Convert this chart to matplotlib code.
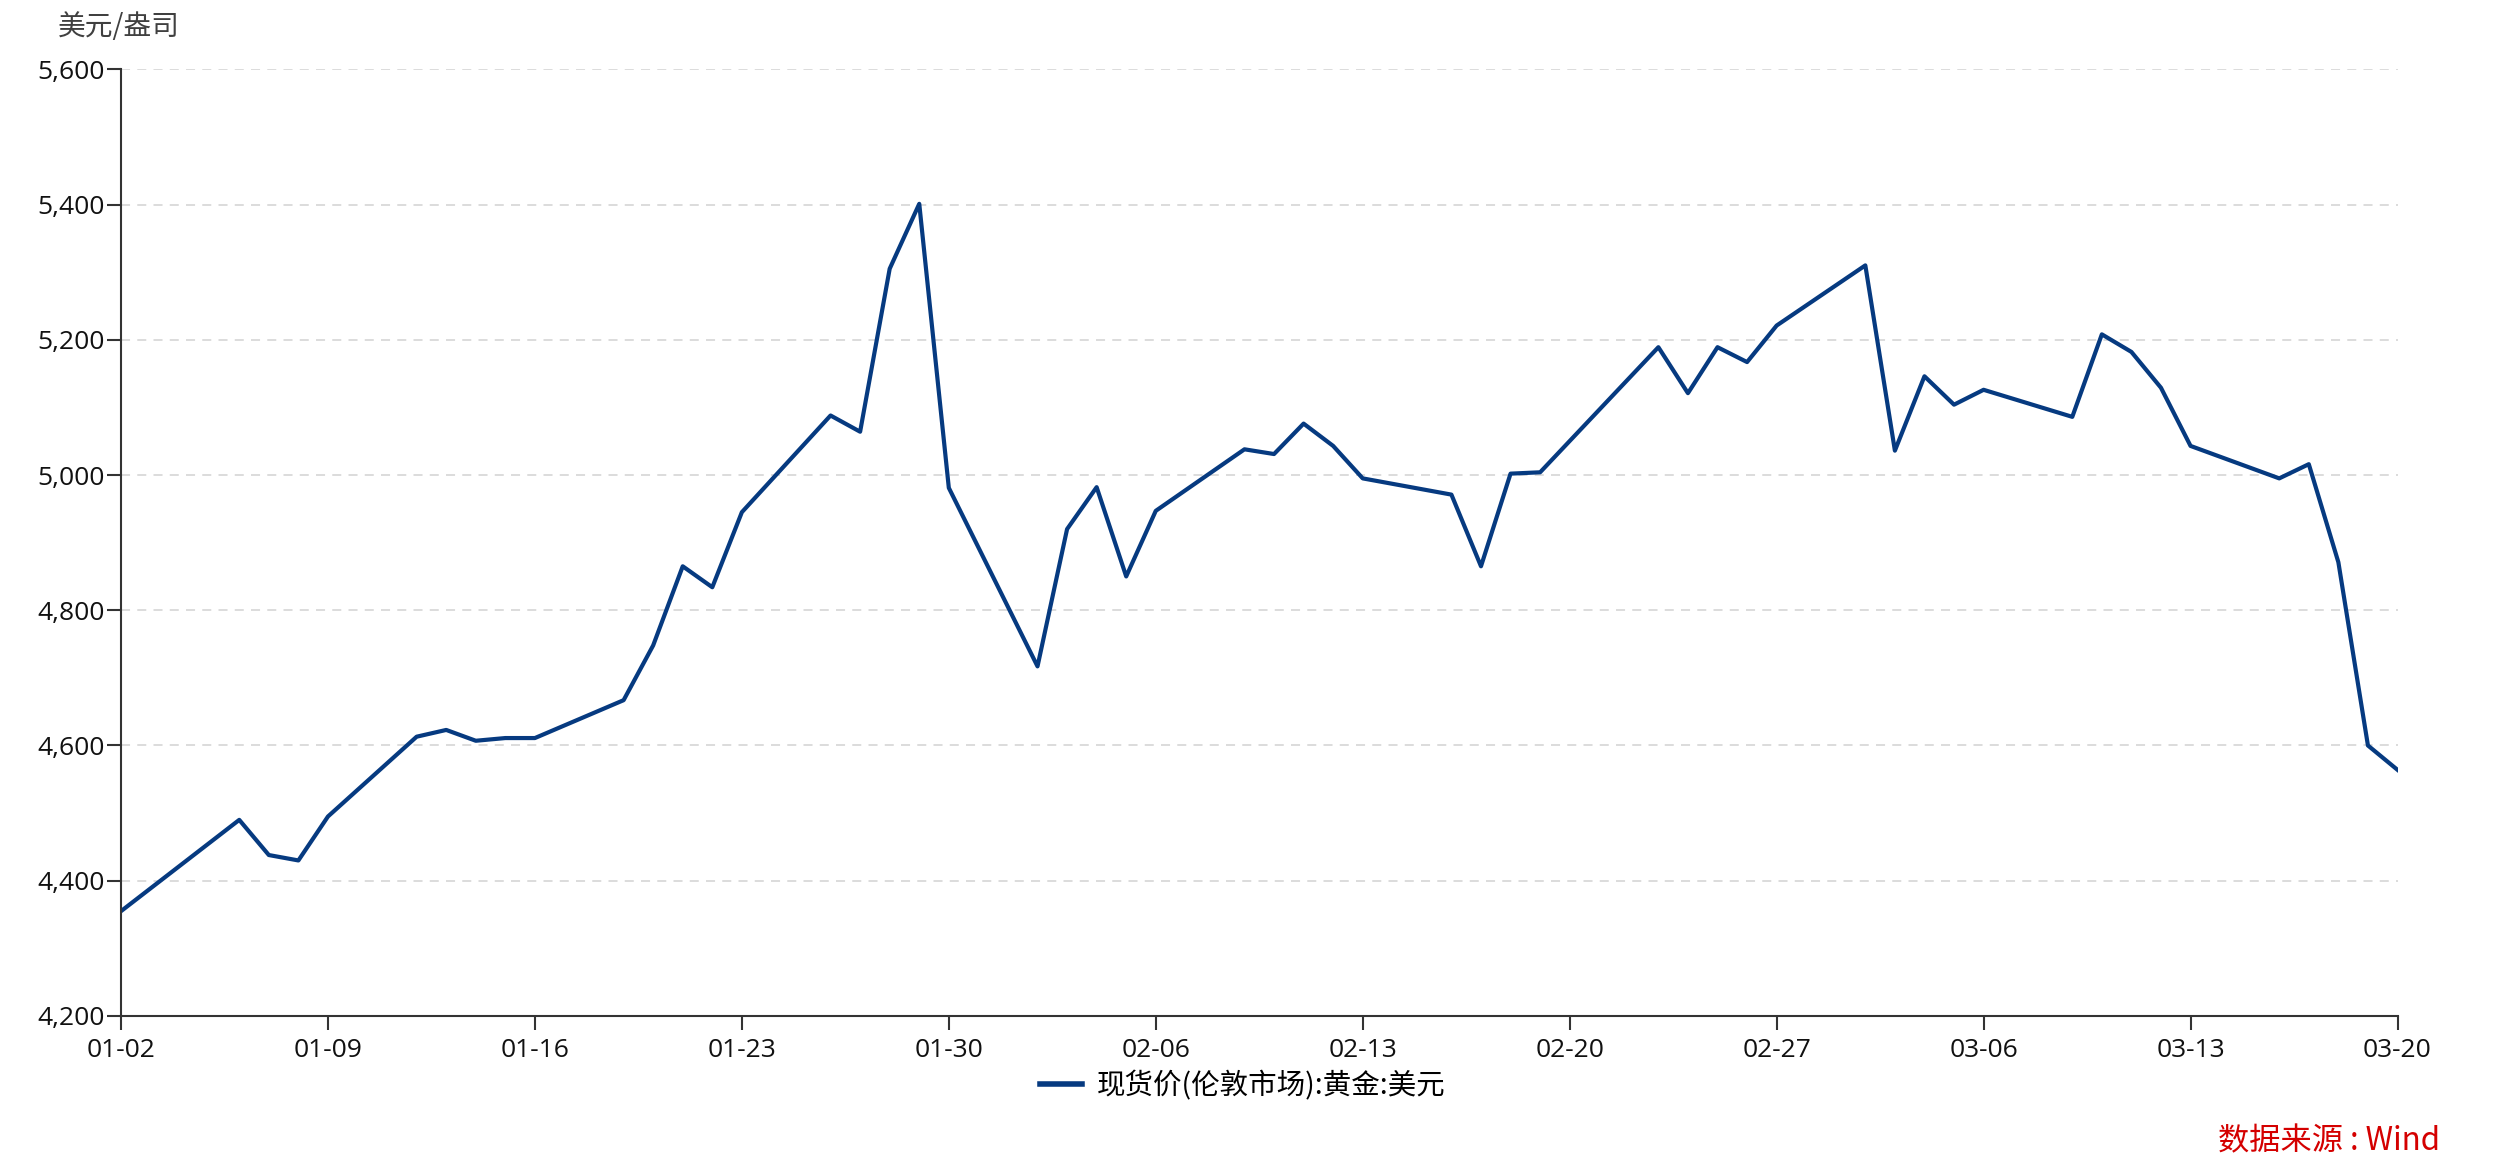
import matplotlib
matplotlib.use('Agg')
import matplotlib.pyplot as plt
import matplotlib.dates as mdates
import pandas as pd

plt.rcParams['font.family'] = ['Noto Sans CJK SC', 'DejaVu Sans']

# spot gold, London, USD/oz
dates = ['01-02', '01-06', '01-07', '01-08', '01-09', '01-12', '01-13', '01-14', '01-15', '01-16',
         '01-19', '01-20', '01-21', '01-22', '01-23', '01-26', '01-27', '01-28', '01-29', '01-30',
         '02-02', '02-03', '02-04', '02-05', '02-06', '02-09', '02-10', '02-11', '02-12', '02-13',
         '02-16', '02-17', '02-18', '02-19', '02-23', '02-24', '02-25', '02-26', '02-27',
         '03-02', '03-03', '03-04', '03-05', '03-06', '03-09', '03-10', '03-11', '03-12', '03-13',
         '03-16', '03-17', '03-18', '03-19', '03-20']
prices = [4355, 4490, 4438, 4430, 4495, 4613, 4623, 4607, 4611, 4611,
          4667, 4748, 4865, 4834, 4945, 5088, 5064, 5305, 5401, 4981,
          4717, 4920, 4982, 4850, 4947, 5038, 5031, 5076, 5043, 4995,
          4971, 4865, 5002, 5004, 5189, 5121, 5189, 5167, 5221,
          5310, 5036, 5146, 5104, 5126, 5086, 5208, 5182, 5129, 5043,
          4995, 5016, 4871, 4600, 4564]
tick_dates = ['01-02', '01-09', '01-16', '01-23', '01-30', '02-06', '02-13',
              '02-20', '02-27', '03-06', '03-13', '03-20']
series_name = '现货价(伦敦市场):黄金:美元'

x = pd.to_datetime(['2026-' + d for d in dates])
xt = pd.to_datetime(['2026-' + d for d in tick_dates])

fig = plt.figure(figsize=(25, 11.74), dpi=100)
ax = fig.add_axes([0.0484, 0.1346, 0.9106, 0.8064])

ax.plot(x, prices, color='#063a80', lw=3.0, label=series_name)

ax.set_xlim(xt[0], xt[-1])
ax.set_ylim(4200, 5600)
ax.set_yticks(range(4200, 5601, 200))
ax.yaxis.set_major_formatter(matplotlib.ticker.FuncFormatter(lambda v, p: f'{int(v):,}'))
ax.set_xticks(xt)
ax.xaxis.set_major_formatter(mdates.DateFormatter('%m-%d'))

ax.grid(axis='y', color='#d9d9d9', ls=(0, (5, 4)), lw=1.3)
ax.set_axisbelow(True)
for s in ['top', 'right']:
    ax.spines[s].set_visible(False)
for s in ['left', 'bottom']:
    ax.spines[s].set_color('#333333')
    ax.spines[s].set_linewidth(1.5)
ax.tick_params(axis='both', length=10, width=1.5, color='#333333', labelcolor='#111111')
ax.tick_params(axis='x', pad=6)
ax.tick_params(axis='y', pad=2)
for lab in ax.get_xticklabels() + ax.get_yticklabels():
    lab.set_fontfamily(['Open Sans', 'DejaVu Sans'])
    lab.set_fontsize(19)

fig.text(0.023, 0.977, '美元/盎司', fontsize=20, color='#404040', va='center', ha='left')

fig.legend(loc='center', bbox_to_anchor=(0.497, 0.075), frameon=False, fontsize=20.5,
           handlelength=1.5, handletextpad=0.5)
for ln in fig.legends[0].get_lines():
    ln.set_linewidth(4)
fig.text(0.976, 0.0275, '数据来源 : Wind', fontsize=22.5, color='#d40000', ha='right', va='center')

fig.savefig('out.png', dpi=100)
